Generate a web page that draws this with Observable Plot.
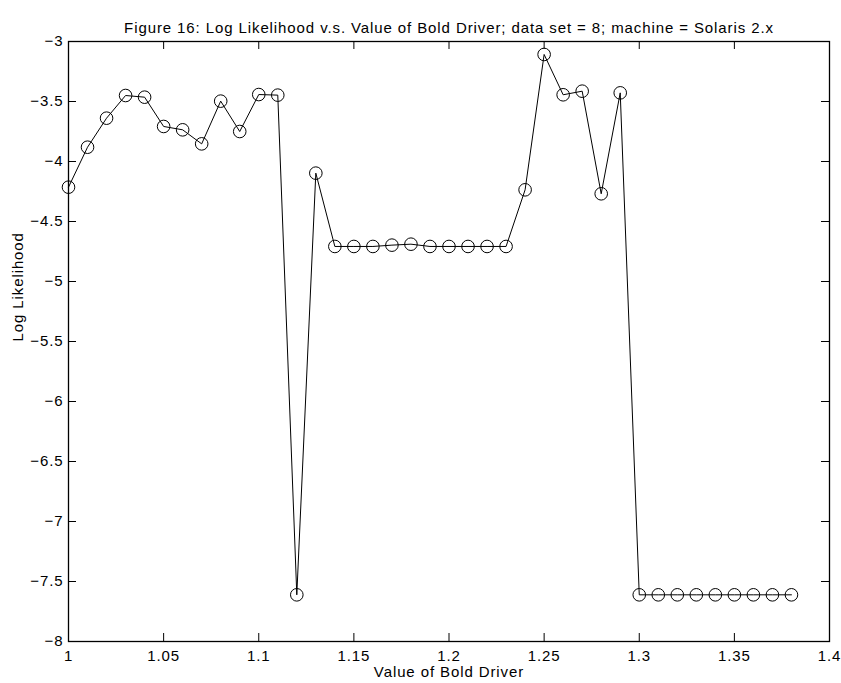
<!DOCTYPE html>
<html>
<head>
<meta charset="utf-8">
<script src="https://cdn.jsdelivr.net/npm/d3@7"></script>
<script src="https://cdn.jsdelivr.net/npm/@observablehq/plot@0.6"></script>
<style>
  html, body { margin: 0; padding: 0; background: #fff; }
  svg { font-family: "Liberation Sans", Arial, Helvetica, sans-serif; }
</style>
</head>
<body>
<div id="chart"></div>
<script>
const titleText = "Figure 16: Log Likelihood v.s. Value of Bold Driver; data set = 8; machine = Solaris 2.x";
const xLabel = "Value of Bold Driver";
const yLabel = "Log Likelihood";

const boldDriver = [1.00, 1.01, 1.02, 1.03, 1.04, 1.05, 1.06, 1.07, 1.08, 1.09,
  1.10, 1.11, 1.12, 1.13, 1.14, 1.15, 1.16, 1.17, 1.18, 1.19,
  1.20, 1.21, 1.22, 1.23, 1.24, 1.25, 1.26, 1.27, 1.28, 1.29,
  1.30, 1.31, 1.32, 1.33, 1.34, 1.35, 1.36, 1.37, 1.38];
const logLikelihood = [-4.214, -3.881, -3.639, -3.450, -3.464, -3.708, -3.736, -3.853, -3.497, -3.750,
  -3.442, -3.447, -7.611, -4.097, -4.708, -4.708, -4.708, -4.697, -4.689, -4.708,
  -4.708, -4.708, -4.708, -4.708, -4.236, -3.108, -3.444, -3.414, -4.269, -3.428,
  -7.611, -7.611, -7.611, -7.611, -7.611, -7.611, -7.611, -7.611, -7.611];

const xTicks = [1, 1.05, 1.1, 1.15, 1.2, 1.25, 1.3, 1.35, 1.4];
const yTicks = [-3, -3.5, -4, -4.5, -5, -5.5, -6, -6.5, -7, -7.5, -8];

const data = boldDriver.map((x, i) => ({x, y: logLikelihood[i]}));

const W = 841, H = 683;
const mL = 68, mR = 12, mT = 41, mB = 42;
const innerW = W - mL - mR, innerH = H - mT - mB;
const tk = 8;
const fs = 15;

const chart = Plot.plot({
  width: W,
  height: H,
  marginLeft: mL,
  marginRight: mR,
  marginTop: mT,
  marginBottom: mB,
  style: {fontFamily: "'Liberation Sans', Arial, Helvetica, sans-serif", fontSize: fs + "px", letterSpacing: "0.9px", background: "#fff", color: "#000"},
  x: {domain: [1, 1.4]},
  y: {domain: [-8, -3]},
  marks: [
    Plot.axisX(xTicks, {tickSize: 0, tickPadding: 9, tickFormat: d => String(d), fontSize: fs, label: null}),
    Plot.axisY(yTicks, {tickSize: 0, tickPadding: 5, tickFormat: d => String(d).replace("-", "\u2212"), fontSize: fs, label: null}),
    Plot.tickX(xTicks, {x: d => d, insetBottom: innerH - tk, stroke: "#000"}),
    Plot.tickX(xTicks, {x: d => d, insetTop: innerH - tk, stroke: "#000"}),
    Plot.tickY(yTicks, {y: d => d, insetRight: innerW - tk, stroke: "#000"}),
    Plot.tickY(yTicks, {y: d => d, insetLeft: innerW - tk, stroke: "#000"}),
    Plot.frame({stroke: "#000", strokeWidth: 1.3}),
    Plot.line(data, {x: "x", y: "y", stroke: "#000", strokeWidth: 1}),
    Plot.dot(data, {x: "x", y: "y", r: 6.3, stroke: "#000", fill: "none", strokeWidth: 1}),
    Plot.text([titleText], {text: d => d, frameAnchor: "top", dy: -19, fontSize: fs, fill: "#000"}),
    Plot.text([xLabel], {text: d => d, frameAnchor: "bottom", dy: 35, fontSize: fs, fill: "#000"}),
    Plot.text([yLabel], {text: d => d, frameAnchor: "left", dx: -50.5, rotate: -90, fontSize: fs, fill: "#000"})
  ]
});
document.getElementById("chart").appendChild(chart);
</script>
</body>
</html>
